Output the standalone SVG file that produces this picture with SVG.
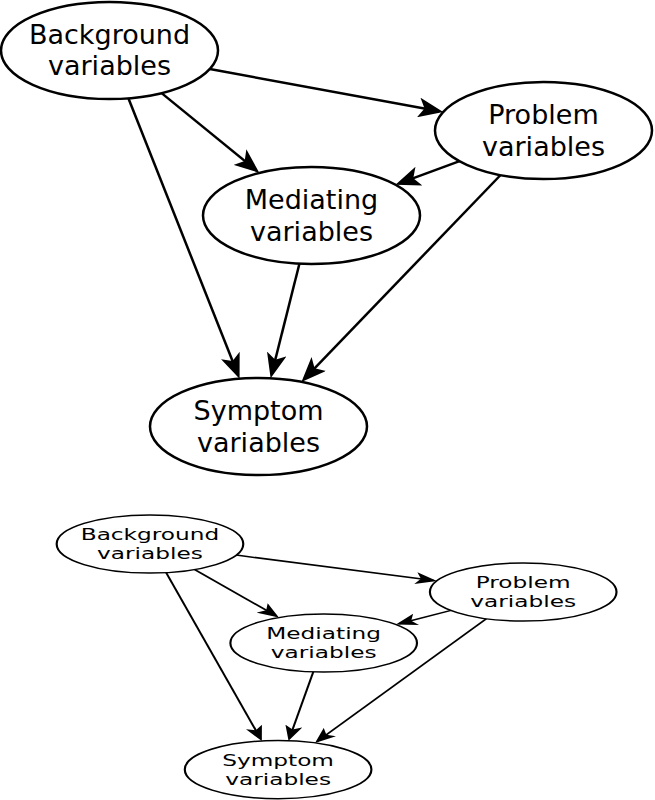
<svg xmlns="http://www.w3.org/2000/svg" width="655" height="800" viewBox="0 0 655 800">
<style>
.n ellipse{fill:#fff;stroke:#000;stroke-width:2.5}
.n text{font-family:"DejaVu Sans","Liberation Sans",sans-serif;font-size:27px;text-anchor:middle;fill:#000}
.e line{stroke:#000;stroke-width:2.5;fill:none;marker-end:url(#ah)}
</style>
<defs>
<marker id="ah" markerUnits="userSpaceOnUse" viewBox="0 0 25 20" markerWidth="25" markerHeight="20" refX="21" refY="10" orient="auto">
<path d="M0,0 L25,10 L0,20 L6,10 Z" fill="#000"/>
</marker>
</defs>
<rect width="655" height="800" fill="#fff"/>
<g id="top">
<g class="e" id="edges-top">
<line x1="209.8" y1="69" x2="439.3" y2="111.3"/>
<line x1="161.6" y1="93.1" x2="256.3" y2="170.4"/>
<line x1="128.4" y1="98.3" x2="238.1" y2="375"/>
<line x1="459.6" y1="161.2" x2="399.2" y2="183.4"/>
<line x1="299.4" y1="263.7" x2="271.6" y2="374.4"/>
<line x1="500.6" y1="175" x2="304.2" y2="379.1"/>
</g>
<g class="n" id="background-top"><ellipse cx="109.5" cy="50.5" rx="108.5" ry="48.5"/><text x="109.5" y="43.5">Background</text><text x="109.5" y="75">variables</text></g>
<g class="n" id="problem-top"><ellipse cx="543.5" cy="130.5" rx="108.5" ry="48.5"/><text x="543.5" y="124">Problem</text><text x="543.5" y="155.5">variables</text></g>
<g class="n" id="mediating-top"><ellipse cx="311.5" cy="215.5" rx="108.5" ry="48.5"/><text x="311.5" y="209">Mediating</text><text x="311.5" y="240.5">variables</text></g>
<g class="n" id="symptom-top"><ellipse cx="258.5" cy="426.5" rx="108.5" ry="48.5"/><text x="258.5" y="420">Symptom</text><text x="258.5" y="451.5">variables</text></g>
</g>
<g id="bottom" transform="matrix(0.86 0 0 0.6 55.8 513.7)">
<g class="e" id="edges-bottom">
<line x1="209.8" y1="69" x2="439.3" y2="111.3"/>
<line x1="161.6" y1="93.1" x2="256.3" y2="170.4"/>
<line x1="128.4" y1="98.3" x2="238.1" y2="375"/>
<line x1="459.6" y1="161.2" x2="399.2" y2="183.4"/>
<line x1="299.4" y1="263.7" x2="271.6" y2="374.4"/>
<line x1="500.6" y1="175" x2="304.2" y2="379.1"/>
</g>
<g class="n" id="background-bottom"><ellipse cx="109.5" cy="50.5" rx="108.5" ry="48.5"/><text x="109.5" y="43.5">Background</text><text x="109.5" y="75">variables</text></g>
<g class="n" id="problem-bottom"><ellipse cx="543.5" cy="130.5" rx="108.5" ry="48.5"/><text x="543.5" y="124">Problem</text><text x="543.5" y="155.5">variables</text></g>
<g class="n" id="mediating-bottom"><ellipse cx="311.5" cy="215.5" rx="108.5" ry="48.5"/><text x="311.5" y="209">Mediating</text><text x="311.5" y="240.5">variables</text></g>
<g class="n" id="symptom-bottom"><ellipse cx="258.5" cy="426.5" rx="108.5" ry="48.5"/><text x="258.5" y="420">Symptom</text><text x="258.5" y="451.5">variables</text></g>
</g>
</svg>
